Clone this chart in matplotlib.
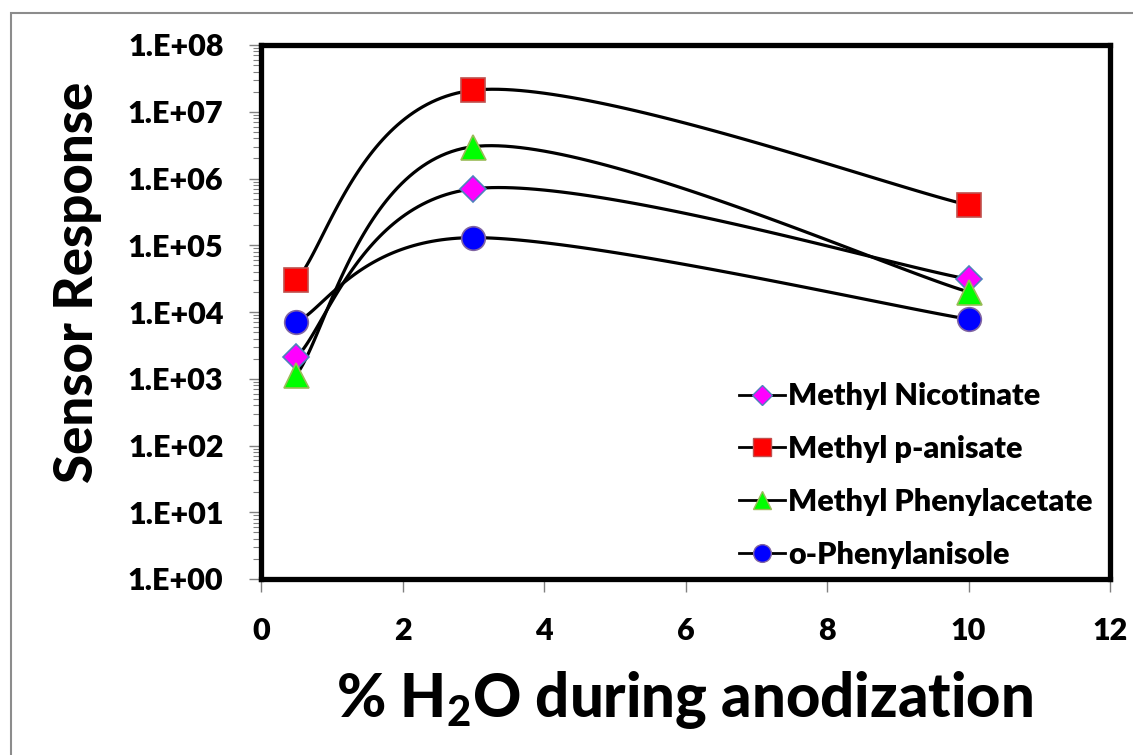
import numpy as np
import matplotlib
matplotlib.use("Agg")
import matplotlib.pyplot as plt
from matplotlib.patches import Rectangle
from matplotlib.ticker import LogLocator, FixedLocator, NullFormatter

# ---- data ----
x_vals = [0.5, 3, 10]
methyl_nicotinate = [2.1e3, 7.0e5, 3.1e4]
methyl_p_anisate = [3.0e4, 2.1e7, 4.0e5]
methyl_phenylacetate = [1.15e3, 3.0e6, 2.0e4]
o_phenylanisole = [7.0e3, 1.3e5, 7.8e3]
series_names = ["Methyl Nicotinate", "Methyl p-anisate", "Methyl Phenylacetate", "o-Phenylanisole"]
y_tick_labels = ["1.E+00", "1.E+01", "1.E+02", "1.E+03", "1.E+04", "1.E+05", "1.E+06", "1.E+07", "1.E+08"]
x_ticks = [0, 2, 4, 6, 8, 10, 12]

FONT = "Lato"
WEIGHT = "heavy"
plt.rcParams['font.family'] = [FONT, 'DejaVu Sans']
plt.rcParams['font.weight'] = WEIGHT

def smooth(xs, ys, n=60):
    # Catmull-Rom style Bezier smoothing in (x, log10 y) space (like Excel smoothed lines)
    P = np.column_stack([np.asarray(xs, float), np.log10(np.asarray(ys, float))])
    m = len(P)
    out = []
    t = np.linspace(0, 1, n)[:, None]
    for i in range(m - 1):
        p0 = P[i - 1] if i > 0 else P[i]
        p1 = P[i]
        p2 = P[i + 1]
        p3 = P[i + 2] if i + 2 < m else P[i + 1]
        c1 = p1 + (p2 - p0) / 6.0
        c2 = p2 - (p3 - p1) / 6.0
        seg = ((1 - t) ** 3) * p1 + 3 * ((1 - t) ** 2) * t * c1 + 3 * (1 - t) * t ** 2 * c2 + t ** 3 * p2
        out.append(seg if i == 0 else seg[1:])
    out = np.vstack(out)
    return out[:, 0], 10 ** out[:, 1]

fig = plt.figure(figsize=(11.33, 7.55), dpi=100)
fig.patch.set_facecolor("white")
# chart-area border (top/left visible)
fig.patches.append(Rectangle((11 / 1133, -0.1), 1.2, 1 - 13 / 755 + 0.1, transform=fig.transFigure,
                             fill=False, edgecolor="#8c8c8c", linewidth=1.5))

ax = fig.add_axes([261 / 1133, 1 - 579 / 755, (1110 - 261) / 1133, (579 - 45) / 755])

styles = [
    dict(marker="D", mfc="#FF00FF", mec="#4F81BD", ms=13),
    dict(marker="s", mfc="#FF0000", mec="#C0504D", ms=17),
    dict(marker="^", mfc="#00FF00", mec="#9BBB59", ms=18),
    dict(marker="o", mfc="#0000FF", mec="#8064A2", ms=17),
]
data = [methyl_nicotinate, methyl_p_anisate, methyl_phenylacetate, o_phenylanisole]

for name, ys, st in zip(series_names, data, styles):
    sx, sy = smooth(x_vals, ys)
    ax.plot(sx, sy, color="black", lw=2.3, zorder=2)
    ax.plot(x_vals, ys, linestyle="none", marker=st["marker"], markerfacecolor=st["mfc"],
            markeredgecolor=st["mec"], markersize=st["ms"], markeredgewidth=1.2, zorder=3)
    # legend handle
    ax.plot([], [], color="black", lw=2.0, marker=st["marker"], markerfacecolor=st["mfc"],
            markeredgecolor=st["mec"], markersize=st["ms"] * 0.75, markeredgewidth=1.0, label=name)

ax.set_yscale("log")
ax.set_ylim(1, 1e8)
ax.set_xlim(0, 12)
ax.set_xticks(x_ticks)
ax.set_xticklabels([str(v) for v in x_ticks])
ax.yaxis.set_major_locator(FixedLocator([10.0 ** k for k in range(9)]))
ax.set_yticklabels(y_tick_labels)
ax.yaxis.set_minor_locator(LogLocator(base=10, subs=np.arange(2, 10), numticks=100))
ax.yaxis.set_minor_formatter(NullFormatter())

for s in ax.spines.values():
    s.set_linewidth(3.8)
    s.set_color("black")

ax.tick_params(axis="both", which="major", direction="out", color="#808080", width=1.0, length=9,
               labelsize=22, pad=18)
ax.tick_params(axis="y", which="minor", direction="out", color="#808080", width=0.8, length=6)
for lab in ax.get_xticklabels() + ax.get_yticklabels():
    lab.set_fontweight(WEIGHT)

leg = ax.legend(loc="upper left", bbox_to_anchor=(0.545, 0.397), frameon=False, fontsize=22,
                handlelength=1.5, handletextpad=0.1, labelspacing=0.81, borderpad=0)
for t in leg.get_texts():
    t.set_fontweight(WEIGHT)

fig.text(78 / 1133, 1 - 282 / 755, "Sensor Response", rotation=90, ha="center", va="center",
         fontsize=38, fontweight="black")
fig.text(685 / 1133, 1 - 717 / 755, "% H$_\\mathregular{2}$O during anodization", ha="center",
         va="baseline", fontsize=43, fontweight="black")

fig.savefig("out.png", dpi=100, facecolor="white")
